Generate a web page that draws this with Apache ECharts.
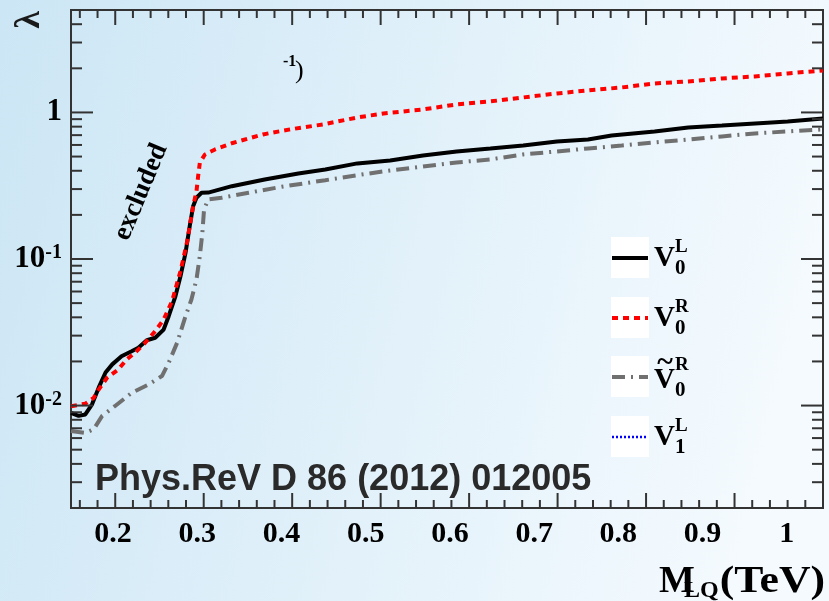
<!DOCTYPE html>
<html>
<head>
<meta charset="utf-8">
<script src="https://cdn.jsdelivr.net/npm/echarts@6/dist/echarts.min.js"></script>
<style>
    html, body { margin: 0; padding: 0; }
    #chart { width: 829px; height: 601px; }
</style>
</head>
<body>
<div id="chart"></div>
<script>
// limits on lambda vs leptoquark mass (TeV)
var v0LMass = [0.150, 0.159, 0.167, 0.175, 0.183, 0.191, 0.199, 0.210, 0.222, 0.230, 0.240, 0.250, 0.260, 0.266, 0.274, 0.280, 0.286, 0.291, 0.295, 0.299, 0.305, 0.313, 0.341, 0.380, 0.420, 0.452, 0.490, 0.529, 0.568, 0.608, 0.648, 0.687, 0.727, 0.764, 0.792, 0.843, 0.883, 0.923, 0.982, 1.001, 1.043];
var v0LLimit = [0.0089, 0.0085, 0.0087, 0.0102, 0.0133, 0.0168, 0.0191, 0.0217, 0.0235, 0.0248, 0.0279, 0.0290, 0.0330, 0.0407, 0.0557, 0.0763, 0.110, 0.168, 0.229, 0.262, 0.283, 0.284, 0.314, 0.349, 0.383, 0.408, 0.449, 0.470, 0.509, 0.542, 0.568, 0.595, 0.634, 0.654, 0.697, 0.742, 0.790, 0.815, 0.855, 0.868, 0.910];

var v0RMass = [0.150, 0.167, 0.177, 0.183, 0.193, 0.206, 0.216, 0.228, 0.238, 0.250, 0.260, 0.270, 0.280, 0.288, 0.295, 0.299, 0.301, 0.303, 0.309, 0.321, 0.342, 0.378, 0.410, 0.449, 0.490, 0.521, 0.568, 0.608, 0.648, 0.687, 0.727, 0.764, 0.804, 0.843, 0.883, 0.923, 0.962, 1.001, 1.043];
var v0RLimit = [0.0099, 0.0103, 0.0113, 0.0129, 0.0155, 0.0176, 0.0206, 0.0235, 0.0268, 0.0322, 0.0386, 0.0515, 0.0826, 0.132, 0.229, 0.290, 0.368, 0.454, 0.517, 0.559, 0.619, 0.708, 0.766, 0.828, 0.924, 0.984, 1.048, 1.134, 1.189, 1.266, 1.348, 1.413, 1.481, 1.577, 1.628, 1.706, 1.761, 1.846, 1.935];

var tV0RMass = [0.150, 0.167, 0.177, 0.187, 0.202, 0.222, 0.242, 0.258, 0.266, 0.276, 0.286, 0.293, 0.299, 0.303, 0.306, 0.308, 0.313, 0.329, 0.361, 0.400, 0.452, 0.490, 0.529, 0.568, 0.608, 0.648, 0.687, 0.727, 0.764, 0.804, 0.843, 0.883, 0.923, 0.962, 1.001, 1.043];
var tV0RLimit = [0.0067, 0.0065, 0.0069, 0.0085, 0.0099, 0.0122, 0.0139, 0.0159, 0.0196, 0.0268, 0.0407, 0.0529, 0.0725, 0.105, 0.151, 0.218, 0.255, 0.262, 0.283, 0.311, 0.345, 0.373, 0.402, 0.428, 0.456, 0.478, 0.517, 0.542, 0.568, 0.595, 0.624, 0.654, 0.686, 0.719, 0.742, 0.766];

// V1L is in the legend but not visible in the plotted range
var v1LMass = [];
var v1LLimit = [];

var xLabels = [0.2, 0.3, 0.4, 0.5, 0.6, 0.7, 0.8, 0.9, 1];
var yLabels = [0.01, 0.1, 1];

var SERIF = '"Liberation Serif", "Times New Roman", serif';
var SANS = '"Liberation Sans", Arial, sans-serif';
var AXIS_COLOR = '#333';

/**
 * minor tick positions (x: every 0.02, y: 2..9 per decade)
 */
var xMinorTicks = [];
for (var i = 8; i < 50; i++) {
    if (i % 5) xMinorTicks.push(+(i * 0.02).toFixed(2));
}
var yMinorTicks = [];
for (var d = -3; d <= 0; d++) {
    for (var m = 2; m <= 9; m++) {
        var v = +(m * Math.pow(10, d)).toPrecision(3);
        if (v > 0.002 && v < 5) yMinorTicks.push(v);
    }
}

// tick items: [x, y, side(0 bottom,1 top,2 left,3 right), length]
var tickData = [];
xLabels.forEach(function (t) { tickData.push([t, 1, 0, 15], [t, 1, 1, 15]); });
xMinorTicks.forEach(function (t) { tickData.push([t, 1, 0, 8], [t, 1, 1, 8]); });
yLabels.forEach(function (t) { tickData.push([0.5, t, 2, 22], [0.5, t, 3, 22]); });
yMinorTicks.forEach(function (t) { tickData.push([0.5, t, 2, 11], [0.5, t, 3, 11]); });

function pairs (xs, ys) {
    return xs.map(function (x, i) { return [x, ys[i]]; });
}

var styles = {
    v0L: { color: '#000000', width: 4, type: 'solid' },
    v0R: { color: '#ff0000', width: 4, type: [6, 5] },
    tV0R: { color: '#707070', width: 4, type: [13, 6, 2, 6] },
    v1L: { color: '#0000ff', width: 2.5, type: [2, 2] }
};

function lineSeries (name, xs, ys, st, z) {
    return {
        name: name,
        type: 'line',
        xAxisIndex: 0,
        yAxisIndex: 0,
        data: pairs(xs, ys),
        symbol: 'none',
        z: z,
        lineStyle: { color: st.color, width: st.width, type: st.type },
        itemStyle: { color: st.color }
    };
}

/**
 * ROOT style inward ticks on all four sides
 */
function renderTick (params, api) {
    var side = api.value(2);
    var len = api.value(3);
    var cs = params.coordSys;
    var shape;
    if (side < 2) {
        var px = api.coord([api.value(0), 1])[0];
        var y0 = side === 0 ? cs.y + cs.height : cs.y;
        var dy = side === 0 ? -len : len;
        shape = { x1: px, y1: y0, x2: px, y2: y0 + dy };
    } else {
        var py = api.coord([0.5, api.value(1)])[1];
        var x0 = side === 2 ? cs.x : cs.x + cs.width;
        var dx = side === 2 ? len : -len;
        shape = { x1: x0, y1: py, x2: x0 + dx, y2: py };
    }
    return { type: 'line', shape: shape, style: { stroke: AXIS_COLOR, lineWidth: 2 } };
}

/**
 * legend drawn by hand: white box with line sample and V label with super/subscript
 */
var legendEntries = [
    { st: styles.v0L, sup: 'L', sub: '0', tilde: false },
    { st: styles.v0R, sup: 'R', sub: '0', tilde: false },
    { st: styles.tV0R, sup: 'R', sub: '0', tilde: true },
    { st: styles.v1L, sup: 'L', sub: '1', tilde: false }
];
var boxTops = [237, 297, 356, 416];
var legendGraphics = [];
legendEntries.forEach(function (e, k) {
    var top = boxTops[k];
    var cy = top + 21;
    var vy = top + 22 + (e.tilde ? 3 : 0);
    legendGraphics.push({
        type: 'rect', shape: { x: 611, y: top, width: 38, height: 41 },
        style: { fill: '#ffffff' }, z: 1
    });
    legendGraphics.push({
        type: 'line', shape: { x1: 612, y1: cy, x2: 648, y2: cy },
        style: { stroke: e.st.color, lineWidth: e.st.width,
            lineDash: e.st.type === 'solid' ? null : e.st.type }, z: 2
    });
    legendGraphics.push({
        type: 'text', x: 654, y: vy,
        style: { text: 'V', font: 'bold 29px ' + SERIF, fill: '#000', align: 'left', verticalAlign: 'middle' }, z: 2
    });
    legendGraphics.push({
        type: 'text', x: 675, y: vy - (e.tilde ? 16 : 12),
        style: { text: e.sup, font: 'bold 19px ' + SERIF, fill: '#000', align: 'left', verticalAlign: 'middle' }, z: 2
    });
    legendGraphics.push({
        type: 'text', x: 675, y: vy + 10,
        style: { text: e.sub, font: 'bold 21px ' + SERIF, fill: '#000', align: 'left', verticalAlign: 'middle' }, z: 2
    });
    if (e.tilde) {
        legendGraphics.push({
            type: 'text', x: 665, y: top + 7,
            style: { text: '~', font: 'bold 30px ' + SERIF, fill: '#000', align: 'center', verticalAlign: 'middle' }, z: 2
        });
    }
});

var chart = echarts.init(document.getElementById('chart'));
var option = {
    animation: false,
    backgroundColor: new echarts.graphic.LinearGradient(0, 0, 1, 0.35, [
        { offset: 0, color: '#cce6f5' },
        { offset: 1, color: '#f4fafe' }
    ]),
    grid: {
        left: 71, top: 10, width: 752, height: 498, containLabel: false,
        show: true, backgroundColor: 'transparent', borderColor: AXIS_COLOR, borderWidth: 2
    },
    xAxis: [
        {
            // label scale
            type: 'value', position: 'bottom', min: 0.15, max: 1.043,
            axisLine: { show: false },
            axisTick: { show: false },
            splitLine: { show: false },
            axisLabel: {
                customValues: xLabels,
                margin: 11,
                fontFamily: SERIF, fontWeight: 'bold', fontSize: 30, color: '#000',
                formatter: function (val) { return String(val); }
            }
        },
        {
            // the tick marks of the original sit on a slightly different scale
            type: 'value', show: false, min: 0.15, max: 1.0
        }
    ],
    yAxis: [
        {
            type: 'log', logBase: 10, position: 'left', min: 0.002, max: 5,
            axisLine: { show: false },
            axisTick: { show: false },
            splitLine: { show: false },
            axisLabel: {
                customValues: yLabels,
                margin: 9,
                formatter: function (val) {
                    var e = Math.round(Math.log10(val));
                    return e === 0 ? '{b|1}' : '{b|10}{s|' + e + '}';
                },
                rich: {
                    b: { fontFamily: SERIF, fontWeight: 'bold', fontSize: 31, color: '#000', lineHeight: 32 },
                    s: { fontFamily: SERIF, fontWeight: 'bold', fontSize: 20, color: '#000', lineHeight: 18, verticalAlign: 'top' }
                }
            }
        }
    ],
    series: [
        {
            type: 'custom',
            name: 'ticks',
            xAxisIndex: 1,
            yAxisIndex: 0,
            silent: true,
            clip: false,
            z: 6,
            dimensions: ['x', 'y', 'side', 'len'],
            encode: { x: 0, y: 1 },
            renderItem: renderTick,
            data: tickData
        },
        lineSeries('tV0R', tV0RMass, tV0RLimit, styles.tV0R, 2),
        lineSeries('V0L', v0LMass, v0LLimit, styles.v0L, 3),
        lineSeries('V0R', v0RMass, v0RLimit, styles.v0R, 4),
        lineSeries('V1L', v1LMass, v1LLimit, styles.v1L, 5)
    ],
    graphic: legendGraphics.concat([
        {
            type: 'text', x: 30, y: 20, rotation: Math.PI / 2,
            style: { text: 'λ', font: 'bold 36px ' + SERIF, fill: '#1a1a1a', align: 'center', verticalAlign: 'middle' }
        },
        {
            type: 'text', x: 283, y: 62,
            style: { text: '-1', font: 'bold 16px ' + SERIF, fill: '#000', align: 'left', verticalAlign: 'middle' }
        },
        {
            type: 'text', x: 295, y: 71,
            style: { text: ')', font: '26px ' + SERIF, fill: '#000', align: 'left', verticalAlign: 'middle' }
        },
        {
            type: 'text', x: 141, y: 192, rotation: 67.4 * Math.PI / 180,
            style: { text: 'excluded', font: 'bold 27px ' + SERIF, fill: '#000', align: 'center', verticalAlign: 'middle' }
        },
        {
            type: 'text', x: 95, y: 480,
            style: { text: 'Phys.ReV D 86 (2012) 012005', font: 'bold 36px ' + SANS, fill: '#2a2a2a', align: 'left', verticalAlign: 'middle' }
        },
        {
            type: 'text', x: 659, y: 582,
            style: { text: 'M', font: 'bold 38px ' + SERIF, fill: '#000', align: 'left', verticalAlign: 'middle' }
        },
        {
            type: 'text', x: 684, y: 591,
            style: { text: 'LQ', font: 'bold 24px ' + SERIF, fill: '#000', align: 'left', verticalAlign: 'middle' }
        },
        {
            type: 'text', x: 825, y: 582, scaleX: 1.15,
            style: { text: '(TeV)', font: 'bold 38px ' + SERIF, fill: '#000', align: 'right', verticalAlign: 'middle' }
        }
    ])
};
chart.setOption(option);
</script>
</body>
</html>
